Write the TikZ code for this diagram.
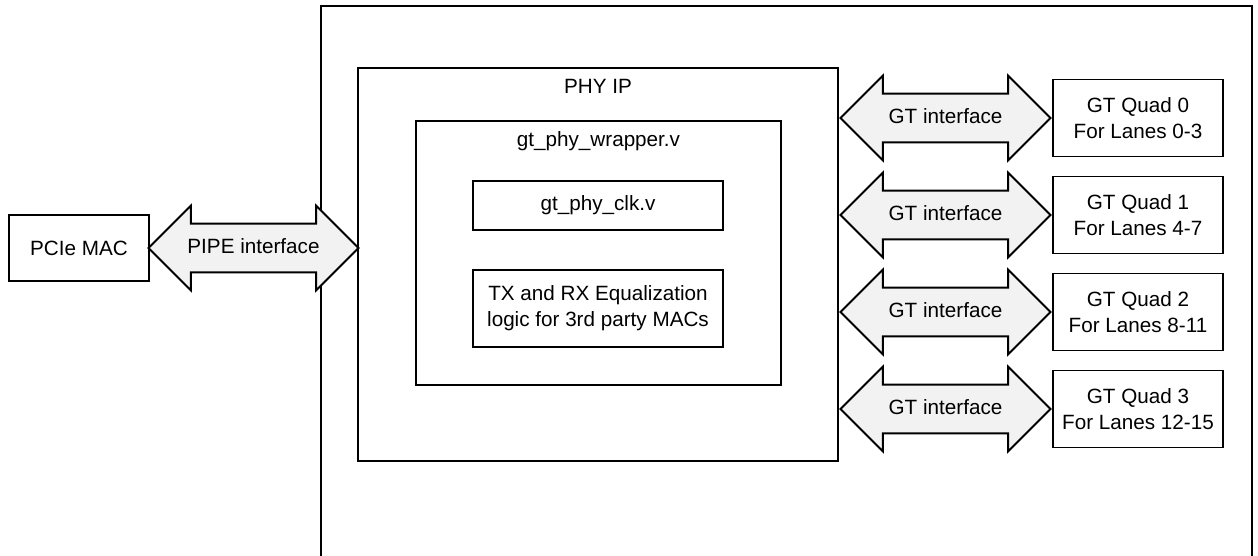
\documentclass[tikz,border=0pt]{standalone}
\usepackage{fontspec}
\setmainfont{Liberation Sans}
\usetikzlibrary{positioning,calc,shapes.arrows}
\definecolor{ifgray}{HTML}{F2F2F2}

\begin{document}
\begin{tikzpicture}[x=0.75pt, y=-0.75pt, line width=1.4pt,
        node distance=13.6pt,
        font=\fontsize{15.5}{19.5}\selectfont,
        blk/.style={draw, align=center, inner sep=0pt},
        quad/.style={blk, minimum width=127.5pt, minimum height=57.75pt},
        fatarrow/.style={double arrow, draw, fill=ifgray, double arrow head extend=13.5pt, text height=11pt, text depth=3pt, inner ysep=10.6pt, inner xsep=0pt, minimum height=157.5pt}]
        \useasboundingbox (0,0) rectangle (1258,556);

        % board outline, open at the bottom
        \draw (321,560) |- (1252,6) -- (1252,560);

        \node[blk, minimum width=105pt, minimum height=50pt] (pcie) at (79,248) {PCIe MAC};
        \node[blk, minimum width=360pt, minimum height=294.75pt] (phy) at (598,264.5) {};
        \node (phyname) at (598,86) {PHY IP};
        \node[blk, minimum width=273.75pt, minimum height=198pt] (wrapper) at (598.5,253) {};
        \node (wrapname) at (598.5,141) {gt\_phy\_wrapper.v};
        \node[blk, minimum width=187.5pt, minimum height=36.75pt] (clk) at (598,205.5) {gt\_phy\_clk.v};
        \node[blk, minimum width=187.5pt, minimum height=57.75pt] (eq) at (598,308.5) {TX and RX Equalization\\logic for 3rd party MACs};

        \node[quad] (quad0) at (1138,118) {GT Quad 0\\For Lanes 0-3};
        \node[quad, below=of quad0] (quad1) {GT Quad 1\\For Lanes 4-7};
        \node[quad, below=of quad1] (quad2) {GT Quad 2\\For Lanes 8-11};
        \node[quad, below=of quad2] (quad3) {GT Quad 3\\For Lanes 12-15};

        \node[fatarrow] (pipe) at ($(pcie.east)!0.5!(pcie.east -| phy.west)$) {PIPE interface};
        \node[fatarrow] (gtif0) at ($(quad0.west -| phy.east)!0.5!(quad0.west)$) {GT interface};
        \node[fatarrow] (gtif1) at ($(quad1.west -| phy.east)!0.5!(quad1.west)$) {GT interface};
        \node[fatarrow] (gtif2) at ($(quad2.west -| phy.east)!0.5!(quad2.west)$) {GT interface};
        \node[fatarrow] (gtif3) at ($(quad3.west -| phy.east)!0.5!(quad3.west)$) {GT interface};
    \end{tikzpicture}
\end{document}
